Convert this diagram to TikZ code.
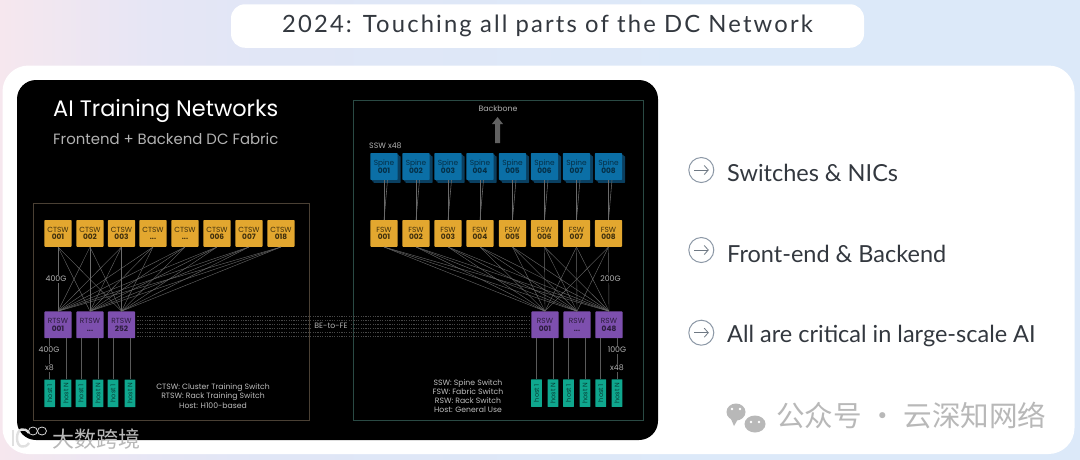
\documentclass[tikz,border=0pt]{standalone}
\usepackage{fontspec}
\setmainfont{Poppins}
\newfontfamily\titlefont[LetterSpace=9]{Lato}
\newfontfamily\sidefont{Lato}
\newfontfamily\cjkfont{Noto Sans CJK SC}
\usetikzlibrary{arrows.meta,shadows}
\definecolor{amber}{HTML}{E3A72F}
\definecolor{violet}{HTML}{7D4FAE}
\definecolor{tealbox}{HTML}{0FA78E}
\definecolor{bluebox}{HTML}{0B6FA6}
\definecolor{blueshade}{HTML}{0A3F60}
\definecolor{inkdark}{HTML}{33383F}
\definecolor{linkgray}{HTML}{6A6A6A}
\definecolor{ringgray}{HTML}{8C98A6}
\definecolor{arrowgray}{HTML}{6E7883}
\definecolor{frameL}{HTML}{4A4034}
\definecolor{frameR}{HTML}{2A4A44}
\definecolor{bga}{HTML}{F6E7EE}
\definecolor{bgb}{HTML}{E6E6F5}
\definecolor{bgc}{HTML}{E0E6F6}
\definecolor{bgd}{HTML}{DCE9F9}
\pgfdeclarehorizontalshading{pagebgtwo}{100bp}{
  color(0bp)=(bga);
  color(25bp)=(bga);
  color(32bp)=(bgb);
  color(38bp)=(bgc);
  color(58bp)=(bgd);
  color(100bp)=(bgd)}
\newcommand{\fs}[1]{\fontsize{#1}{#1}\selectfont}
\newcommand{\dd}{...}
\tikzset{
  swbox/.style={minimum width=27.4pt,minimum height=26.8pt,inner sep=0pt,rounded corners=0.8pt,align=center,font=\fs{7.4},execute at begin node={\baselineskip=7.8pt}},
  ctbox/.style={swbox,fill=amber,text=black!72!amber},
  rtbox/.style={swbox,fill=violet,text=black!65!violet},
  spbox/.style={swbox,fill=bluebox,text=black!58!bluebox,double copy shadow={shadow xshift=1.5pt,shadow yshift=-1.5pt,fill=blueshade,draw=none}},
  hostbox/.style={minimum width=10.8pt,minimum height=27.6pt,inner sep=0pt,fill=tealbox,text=black!62!tealbox,font=\fs{6.6},rounded corners=0.5pt},
  link/.style={draw=linkgray,line width=0.4pt},
  hostlink/.style={draw=linkgray!85!black,line width=0.6pt},
  bedash/.style={draw=black!72!white,line width=0.45pt,dash pattern=on 1.2pt off 1.2pt},
  lab/.style={text=black!30!white,font=\fs{7.8},inner sep=1.2pt,fill=black},
  legend/.style={text=black!25!white,font=\fs{7.7},align=center,inner sep=0pt,execute at begin node={\baselineskip=9.2pt}},
  side/.style={anchor=west,text=inkdark,font=\sidefont\fs{23.5},inner sep=0pt},
  ring/.style={draw=ringgray,line width=1pt,circle,minimum size=25pt,inner sep=0pt},
  mark1/.style={text=black!28!white,font=\cjkfont\fs{28.6},inner sep=0pt,anchor=west},
  mark2/.style={text=white!72!black,font=\cjkfont\fs{22},inner sep=0pt,anchor=west}
}
\begin{document}
\begin{tikzpicture}[x=1pt,y=-1pt]
\useasboundingbox (0,0) rectangle (1080,459);
\shade[shading=pagebgtwo] (0,0) rectangle (1080,459);
% title pill
\node[fill=white,rounded corners=14pt,minimum width=633pt,minimum height=43.5pt,inner sep=0pt,text=inkdark,font=\titlefont\fs{23.8}] (title) at (547.5,26) {2024: Touching all parts of the DC Network};
% white panel
\fill[white,rounded corners=26pt] (2.5,65.5) rectangle (1074.5,454);
% black panel
\fill[black,rounded corners=19pt] (17,80) rectangle (658,440);
\node[anchor=west,text=white,font=\fs{22.4},inner sep=0pt] (t1) at (53,111) {AI Training Networks};
\node[anchor=west,text=black!30!white,font=\fs{14.9},inner sep=0pt] (t2) at (53,139) {Frontend + Backend DC Fabric};
% frames
\draw[draw=frameL,line width=0.6pt] (33.3,203.5) rectangle (309.5,420);
\draw[draw=frameR,line width=0.6pt] (353.5,100) rectangle (643,420.5);
% left network
\foreach \n/\x/\l in {1/58/001,2/90/002,3/121.5/003,4/153/\dd,5/185/\dd,6/217/006,7/249/007,8/281/018}
  \node[ctbox] (c\n) at (\x,233.4) {CTSW\\\textbf{\l}};
\foreach \n/\x/\l in {1/58/001,2/90/\dd,3/121.5/252}
  \node[rtbox] (r\n) at (\x,324.8) {RTSW\\\textbf{\l}};
\foreach \n/\x/\l in {1/49.7/host 1,2/66/host N,3/81/host 1,4/98/host N,5/113/host 1,6/130/host N}
  \node[hostbox] (h\n) at (\x,393.3) {\rotatebox{90}{\l}};
% right network
\foreach \n/\x/\l in {1/384/001,2/416/002,3/448/003,4/480/004,5/512.5/005,6/544.5/006,7/576.5/007,8/608.5/008}{
  \node[spbox] (s\n) at (\x,166.5) {Spine\\\textbf{\l}};
  \node[ctbox] (f\n) at (\x,233.4) {FSW\\\textbf{\l}};
}
\foreach \n/\x/\l in {1/545/001,2/577/\dd,3/609/048}
  \node[rtbox] (w\n) at (\x,324.8) {RSW\\\textbf{\l}};
\foreach \n/\x/\l in {1/536.5/host 1,2/553/host N,3/568.5/host 1,4/585/host N,5/600.7/host 1,6/617/host N}
  \node[hostbox] (k\n) at (\x,393.1) {\rotatebox{90}{\l}};
% mesh links
\foreach \a in {1,...,8}\foreach \b in {1,2,3}{
  \draw[link] (c\a.south) -- (r\b.north);
  \draw[link] (f\a.south) -- (w\b.north);
}
\foreach \a in {1,...,8}{
  \draw[link,line width=0.55pt] (s\a.south) -- (f\a.north);
  \draw[link,line width=0.55pt] ([xshift=3.5pt]s\a.south) -- (f\a.north);
}
% host links
\foreach \a/\b in {1/1,2/1,3/2,4/2,5/3,6/3}{
  \draw[hostlink] (h\a.north |- r\b.south) -- (h\a.north);
  \draw[hostlink] (k\a.north |- w\b.south) -- (k\a.north);
}
% BE-to-FE dotted bus
\foreach \y in {316.7,320,324,328,332,336}
  \draw[bedash] ([xshift=2pt]r3.east |- 0,\y) -- ([xshift=-2pt]w1.west |- 0,\y);
\node[lab,inner sep=2pt] (be) at (331,326) {BE-to-FE};
% labels
\node[lab] (l1) at (56,279) {400G};
\node[lab] (l2) at (49,350) {400G};
\node[lab] (l3) at (49.5,368) {x8};
\node[lab] (l4) at (610.5,279) {200G};
\node[lab] (l5) at (617,350) {100G};
\node[lab] (l6) at (617,368) {x48};
\node[legend] (lg1) at (213,396) {CTSW: Cluster Training Switch\\RTSW: Rack Training Switch\\Host: H100-based};
\node[legend] (lg2) at (468,396) {SSW: Spine Switch\\FSW: Fabric Switch\\RSW: Rack Switch\\Host: General Use};
% backbone
\node[lab,fill=none] (bb) at (498,109) {Backbone};
\coordinate (bbtip) at (497.5,117);
\fill[black!62!white] (bbtip) -- ++(-5.5,7) -- ++(3,0) -- ++(0,19) -- ++(5,0) -- ++(0,-19) -- ++(3,0) -- cycle;
\node[lab,fill=none,anchor=west,inner sep=0pt] (ssw) at (369,145.5) {SSW x48};
% right list
\foreach \n/\y/\ty/\t in {1/170/173/Switches \& NICs,2/250/254/Front-end \& Backend,3/332.7/335.5/All are critical in large-scale AI}{
  \node[ring] (o\n) at (701.3,\y) {};
  \draw[arrowgray,line width=0.8pt,-{Straight Barb[length=4pt,width=9pt]}] ([xshift=-7pt]o\n.center) -- ([xshift=7.5pt]o\n.center);
  \node[side] (i\n) at (727,\ty) {\t};
}
% watermarks
\fill[black!28!white] (736,412) ellipse (9.5pt and 8.5pt);
\fill[black!28!white] (731,419) -- (734,426) -- (738,419) -- cycle;
\fill[white] (755,424) ellipse (12.5pt and 10.5pt);
\fill[black!28!white] (755,424) ellipse (10.5pt and 8.5pt);
\fill[black!28!white] (758,431) -- (762,430) -- (760,426) -- cycle;
\foreach \px/\py in {732/409,740/409,751/422,759/422}
  \fill[white] (\px,\py) circle (1.3pt);
\node[mark1] (wm1) at (776,415) {公众号 · 云深知网络};
\draw[black!12!white,line width=2pt] (13,430) -- (13,446);
\draw[black!12!white,line width=2.4pt] (29,433) .. controls (25,427) and (17,428) .. (17,438) .. controls (17,448) and (25,449) .. (29,443);
\draw[white!82!black,line width=0.8pt] (33,431) ellipse (4.5pt and 4pt);
\draw[white!82!black,line width=0.8pt] (42,431) ellipse (4.5pt and 4pt);
\node[mark2] (wm2) at (52,439) {大数跨境};
\end{tikzpicture}
\end{document}
